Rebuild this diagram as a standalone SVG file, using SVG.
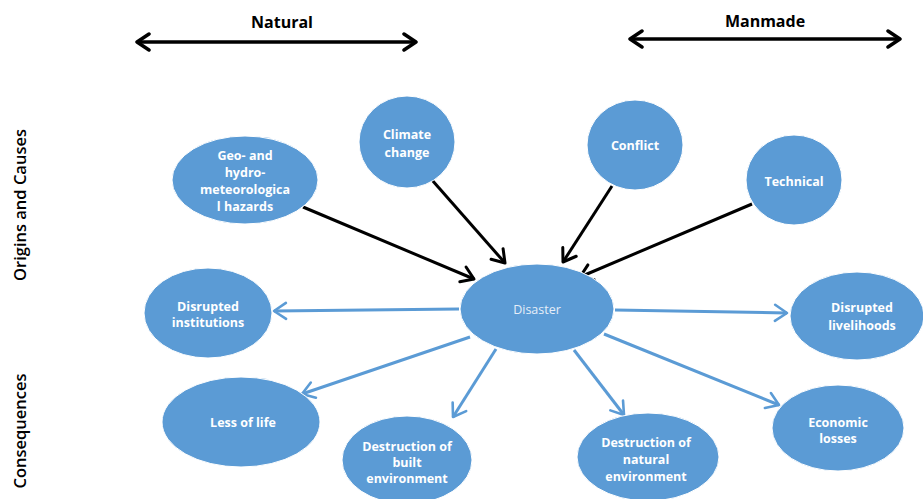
<svg xmlns="http://www.w3.org/2000/svg" width="923" height="499" viewBox="0 0 923 499">
<defs>
<marker id="ab" markerUnits="userSpaceOnUse" markerWidth="24" markerHeight="24" refX="14" refY="10" orient="auto" viewBox="0 0 24 20">
<path d="M2,2 L14,10 L2,18" fill="none" stroke="#000" stroke-width="3" stroke-linecap="round" stroke-linejoin="round"/>
</marker>
<marker id="ab2" markerUnits="userSpaceOnUse" markerWidth="24" markerHeight="24" refX="14" refY="10" orient="auto-start-reverse" viewBox="0 0 24 20">
<path d="M2,2 L14,10 L2,18" fill="none" stroke="#000" stroke-width="3.5" stroke-linecap="round" stroke-linejoin="round"/>
</marker>
<marker id="au" markerUnits="userSpaceOnUse" markerWidth="24" markerHeight="24" refX="14" refY="10" orient="auto" viewBox="0 0 24 20">
<path d="M2,2 L14,10 L2,18" fill="none" stroke="#5B9BD5" stroke-width="2.6" stroke-linecap="round" stroke-linejoin="round"/>
</marker>
</defs>
<style>
.n{fill:#5B9BD5;stroke:#fff;stroke-width:1}
.t{font-family:"Open Sans","Liberation Sans",sans-serif;font-size:12.5px;font-weight:700;fill:#fff;text-anchor:middle}
.h{font-family:"Open Sans","Liberation Sans",sans-serif;font-size:16px;font-weight:700;fill:#000;text-anchor:middle}
.s{font-family:"Open Sans","Liberation Sans",sans-serif;font-size:16.5px;font-weight:600;fill:#000;text-anchor:middle}
.k{stroke:#000;stroke-width:3;fill:none;marker-end:url(#ab)}
.b{stroke:#5B9BD5;stroke-width:3;fill:none;marker-end:url(#au)}
.d{stroke:#000;stroke-width:3.5;fill:none;marker-start:url(#ab2);marker-end:url(#ab2)}
</style>
<rect width="923" height="499" fill="#fff"/>
<g id="headers">
<text class="h" x="282" y="28">Natural</text>
<line class="d" x1="137" y1="42" x2="416" y2="42"/>
<text class="h" x="765" y="27">Manmade</text>
<line class="d" x1="630" y1="39" x2="900" y2="39"/>
<text class="s" transform="translate(26,205) rotate(-90)">Origins and Causes</text>
<text class="s" transform="translate(26,431) rotate(-90)">Consequences</text>
</g>
<g id="connectors">
<line class="k" x1="303" y1="207" x2="474" y2="279"/>
<line class="k" x1="432" y1="180" x2="505" y2="263"/>
<line class="k" x1="612" y1="186" x2="563" y2="262"/>
<line class="k" x1="752" y1="204" x2="580" y2="277"/>
<line class="b" x1="459" y1="309" x2="274" y2="311"/>
<line class="b" x1="615" y1="310" x2="787" y2="313"/>
<line class="b" x1="470" y1="337" x2="302" y2="394"/>
<line class="b" x1="496" y1="349" x2="453" y2="417"/>
<line class="b" x1="574" y1="350" x2="624" y2="415"/>
<line class="b" x1="604" y1="334" x2="779" y2="405"/>
</g>
<g id="geo"><ellipse class="n" cx="245" cy="180" rx="73" ry="44"/>
<text class="t" x="245" y="160">Geo- and</text><text class="t" x="245" y="177">hydro-</text><text class="t" x="245" y="194">meteorologica</text><text class="t" x="245" y="211">l hazards</text></g>
<g id="climate"><ellipse class="n" cx="407" cy="142" rx="48" ry="46"/>
<text class="t" x="407" y="139">Climate</text><text class="t" x="407" y="157">change</text></g>
<g id="conflict"><ellipse class="n" cx="635" cy="145" rx="48" ry="45"/>
<text class="t" x="635" y="150">Conflict</text></g>
<g id="technical"><ellipse class="n" cx="794" cy="180" rx="48" ry="45"/>
<text class="t" x="794" y="186">Technical</text></g>
<g id="disaster"><ellipse class="n" cx="537" cy="309" rx="77" ry="45"/>
<text class="t" x="537" y="314" style="font-weight:400;fill:#e6eef8">Disaster</text></g>
<g id="institutions"><ellipse class="n" cx="208" cy="313" rx="64" ry="45"/>
<text class="t" x="208" y="311">Disrupted</text><text class="t" x="208" y="327">institutions</text></g>
<g id="livelihoods"><ellipse class="n" cx="857" cy="316" rx="67" ry="44"/>
<text class="t" x="862" y="312">Disrupted</text><text class="t" x="862" y="330">livelihoods</text></g>
<g id="lifeloss"><ellipse class="n" cx="241" cy="422" rx="79" ry="45"/>
<text class="t" x="243" y="427">Less of life</text></g>
<g id="built"><ellipse class="n" cx="407" cy="460" rx="65" ry="44"/>
<text class="t" x="407" y="451">Destruction of</text><text class="t" x="407" y="467">built</text><text class="t" x="407" y="483">environment</text></g>
<g id="natural"><ellipse class="n" cx="648" cy="457" rx="71" ry="44"/>
<text class="t" x="646" y="447">Destruction of</text><text class="t" x="646" y="464">natural</text><text class="t" x="646" y="481">environment</text></g>
<g id="economic"><ellipse class="n" cx="838" cy="428" rx="66" ry="43"/>
<text class="t" x="838" y="427">Economic</text><text class="t" x="838" y="443">losses</text></g>
</svg>
